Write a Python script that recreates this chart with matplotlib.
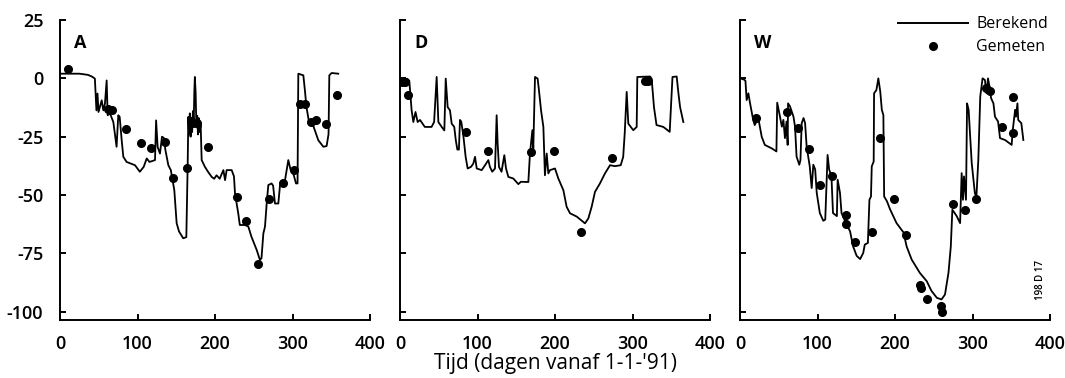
import matplotlib
matplotlib.use("Agg")
import matplotlib.pyplot as plt
from matplotlib.lines import Line2D
from matplotlib.ticker import FuncFormatter

plt.rcParams['font.family'] = ['Open Sans', 'DejaVu Sans']

# ---------------- data (day, value in cm) ----------------
panel_labels = ["A", "D", "W"]

A_berekend = [
    (0, 2), (10, 2), (25, 2), (36, 1.5), (41, 0.8), (45, -0.1), (47, -13.7), (48.4, -6.5),
    (49.7, -14.4), (53.8, -9.4), (55.9, -13.7), (58, -10.8), (60.2, -0.9), (61.5, -15.8),
    (64.5, -15), (68.8, -18.7), (73, -29.3), (75.2, -15.8), (77, -16.5), (79.6, -26.5),
    (81.7, -33.6), (86, -35.8), (96.8, -37.2), (103, -40), (108, -37.9), (111.9, -34.3),
    (115.5, -35.8), (122.6, -35), (124, -18), (126, -29.4), (129, -32.2), (131.6, -25),
    (134, -25.5), (136, -30.7), (139.8, -37.2), (143, -39.3), (147.5, -47.9), (150.5, -62),
    (153.6, -65.6), (159, -68.5), (163, -68), (164.7, -37.9), (165.6, -16.5), (166.5, -24),
    (167.5, -15), (168.5, -25), (169.5, -17), (170.5, -23), (171.5, -14), (172.5, -20),
    (173.3, -6), (174, 0.6), (175, -6), (176, -21), (177, -16), (178, -24), (179, -17),
    (180, -23), (181.5, -19.9), (182.8, -35), (187, -37.9), (191, -40), (195.7, -42.2),
    (199, -43), (202, -41.5), (206, -43), (210.8, -39.3), (213, -43.6), (215, -39.3),
    (221.5, -39.3), (224.5, -42), (225.8, -49.3), (230, -57.8), (232, -62.8), (238.7, -62.8),
    (243, -63.5), (247, -67.8), (253.8, -73.5), (258, -77.8), (260, -77), (262.4, -66.4),
    (264.5, -63.5), (266.7, -53.6), (268.8, -45.7), (273, -45), (275, -46), (277.4, -53.6),
    (281.7, -53.6), (283.9, -45.7), (290, -44.3), (294.6, -35), (297.6, -39.3), (301, -40.7),
    (304.5, -45), (306.5, -45), (307.5, 2), (314, 1.3), (316, -5.1), (318, -12.3),
    (321.7, -19.4), (327, -20.5), (333.3, -26.5), (339.8, -29.3), (344, -29), (346.5, -23.9),
    (347.5, 1.3), (350.5, 2.3), (359, 2),
]
A_gemeten = [
    (10.8, 3.8), (62, -13), (67, -13.7), (84.7, -21.9), (104.5, -27.6), (117, -30),
    (135.5, -27.2), (146, -42.5), (164, -38.2), (171, -19), (177, -19), (191.4, -29.6),
    (228, -51), (240, -61), (255, -79.6), (270, -51.5), (288, -45), (302, -39.3),
    (310, -10.8), (316, -10.8), (324, -18.5), (330.3, -17.9), (343, -19.7), (357.8, -7),
]

D_berekend = [
    (0, -0.3), (2, -0.1), (9.5, -0.2), (12, -1), (15, -13.7), (17.2, -18.7), (20, -14.4),
    (22.8, -18.7), (25.8, -17.8), (32, -20.8), (40.7, -20.8), (44, -18.7), (47.3, 0.6),
    (49.5, -18.7), (53.8, -20.8), (57.2, -22.3), (59, -0.1), (61.5, -12.3), (64.5, -13.7),
    (66.7, -19.4), (70, -20.8), (72, -26.5), (74, -30.5), (76, -30.5), (77.4, -17.8),
    (79, -18.5), (81.7, -24.4), (84.7, -33.6), (87.3, -38.6), (91.6, -37.9), (94.6, -36.5),
    (96.8, -33.6), (99, -38.6), (105.4, -39.3), (109.7, -37.2), (114, -35), (116, -37.9),
    (119, -40), (122.6, -38.6), (124.7, -15.8), (126, -28), (127.7, -37.9), (131, -40),
    (134.6, -32.9), (136.8, -38.6), (139.8, -42.2), (146.2, -42.9), (152.7, -45.3),
    (156, -44.3), (165.6, -44.4), (167.7, -32.2), (170.8, -22.2), (172, -30), (174.2, 0.6),
    (177.6, -0.1), (179.3, -5.1), (182, -13.7), (185, -20.8), (187, -41.5), (189.3, -32.2),
    (191.4, -40.7), (193.5, -39.3), (200, -38.6), (204.3, -42.9), (210.8, -47.9),
    (215, -55), (219.4, -57.8), (228, -59.2), (238.7, -62.1), (243, -60), (247.3, -55),
    (251.6, -48.6), (258, -45), (264.5, -40.7), (271, -37.2), (277.4, -37.6), (284.8, -37.2),
    (288, -33.6), (290, -23.3), (292.5, -5.8), (294.6, -19.4), (301, -22.2), (305.4, -20.8),
    (306.2, 0.6), (322.6, 0.8), (324.7, -0.1), (327.7, -12.3), (331, -20), (339.8, -20.8),
    (348, -22.9), (351.6, 0.6), (357, 0.8), (359.3, -6.5), (361.4, -12.3), (365.6, -18.7),
]
D_gemeten = [
    (2, -1.4), (7, -1.4), (10, -7), (85, -22.9), (113, -31), (168.6, -31.5), (198.5, -31),
    (233.5, -66), (273, -34.3), (316, -1.3), (320, -1),
]

W_berekend = [
    (0, 0), (5, -0.5), (7, -1), (8.6, -9.3), (10.8, -6.4), (13, -10.7), (17, -17.8),
    (19, -20), (23.6, -17), (28, -25), (32, -28.5), (41, -30), (47, -31.3), (48, -10.4),
    (51.6, -16.4), (54, -20.7), (56, -17.8), (58, -25.6), (60, -18.5), (61.5, -28.5),
    (62, -10.7), (64.5, -12), (69, -16.4), (71, -20.7), (73, -33.5), (76.5, -37), (78, -35),
    (79.6, -19.2), (82, -17), (84, -19.2), (86, -29.2), (90, -37.7), (92.5, -47),
    (94.6, -37), (97, -39), (99, -49), (103, -57.7), (107.5, -61), (110, -60.5),
    (113, -32.8), (115, -39), (118, -42), (120, -57.7), (125, -59), (126, -43.4),
    (129, -49), (131, -57.7), (137.6, -62.7), (142, -65.5), (146, -72), (150.5, -76),
    (155, -77.4), (159, -74.8), (161, -71.2), (165, -70.5), (167, -52), (169, -50.6),
    (170, -37.7), (172.5, -35.6), (173, -6.4), (176, -5), (178.5, 0), (181, -5.7),
    (183, -13.5), (185, -15.7), (186, -50.6), (189.7, -52.7), (193.5, -56), (202, -62),
    (211, -66), (215, -72), (221.5, -77.6), (232, -83.3), (241, -86.9), (247, -91),
    (254, -94), (260, -94.7), (264.5, -92.6), (269, -83.3), (272, -72), (274, -56.3),
    (276.6, -57.5), (279.6, -59), (284, -62), (286, -40.6), (287.7, -52), (289, -42),
    (291.6, -52), (293, -10.7), (295, -13.5), (299, -36.3), (303, -49), (305, -51),
    (307.5, -35), (310, -7.8), (313, 0), (316, -0.7), (318, -6.4), (320, 0), (322, -3.6),
    (324, -8.5), (327, -10.7), (329, -16.4), (333, -18.5), (335.5, -25.6), (342, -26.4),
    (350.5, -28.5), (352, -22), (355, -13.5), (356, -16.4), (358, -10.7), (359, -17.8),
    (363, -19.2), (365.6, -26.4),
]
W_gemeten = [
    (20.6, -17.1), (61, -14.2), (75, -21.2), (89, -30.2), (103, -45.6), (118.5, -42),
    (136.5, -58.7), (136.5, -62.2), (149, -70.2), (170.5, -65.9), (181, -25.5),
    (198.5, -51.5), (214, -67.2), (232, -88.3), (233, -90), (241, -94.7), (259, -97.3),
    (260, -100), (274.4, -53.7), (290, -56.3), (304.5, -51.7), (318, -4.3), (322, -5.5),
    (337.6, -20.7), (352.7, -7.8), (351.8, -23.5),
]

x_ticks = [0, 100, 200, 300, 400]
y_ticks = [25, 0, -25, -50, -75, -100]
legend_labels = ["Berekend", "Gemeten"]
x_label = "Tijd (dagen vanaf 1-1-'91)"
figure_code = "198 D 17"

series = [(A_berekend, A_gemeten), (D_berekend, D_gemeten), (W_berekend, W_gemeten)]

# ---------------- figure ----------------
W_PX, H_PX = 1065, 378
fig = plt.figure(figsize=(W_PX / 100, H_PX / 100), dpi=100)

lefts_px = [60, 400, 740]
ax_w, ax_top, ax_bot = 310, 20, 320
axes = []
for lp in lefts_px:
    ax = fig.add_axes([lp / W_PX, 1 - ax_bot / H_PX, ax_w / W_PX, (ax_bot - ax_top) / H_PX])
    axes.append(ax)

fmt = FuncFormatter(lambda v, p: f"{int(v)}".replace("\u2212", "-"))

for i, (ax, (ber, gem), lab) in enumerate(zip(axes, series, panel_labels)):
    bx, by = zip(*ber)
    gx, gy = zip(*gem)
    ax.plot(bx, by, color="black", lw=1.3, zorder=2)
    ax.plot(gx, gy, "o", color="black", ms=5.5, zorder=3)
    ax.set_xlim(0, 400)
    ax.set_ylim(-103.5, 25)
    ax.set_xticks(x_ticks)
    ax.set_yticks(y_ticks)
    ax.spines["top"].set_visible(False)
    ax.spines["right"].set_visible(False)
    for s in ("left", "bottom"):
        ax.spines[s].set_linewidth(1.4)
    ax.tick_params(direction="in", length=4, width=1.4, labelsize=13)
    ax.tick_params(axis="x", pad=11)
    ax.tick_params(axis="y", pad=12)
    ax.yaxis.set_major_formatter(fmt)
    for t in ax.get_xticklabels() + ax.get_yticklabels():
        t.set_fontweight("semibold")
    if i > 0:
        ax.tick_params(axis="y", labelleft=False)
    ax.text(0.045, 0.925, lab, transform=ax.transAxes, fontsize=13, fontweight="bold",
            ha="left", va="center")

axes[1].set_xlabel(x_label, fontsize=15, labelpad=0)

handles = [Line2D([], [], color="black", lw=1.4),
           Line2D([], [], color="black", marker="o", ls="none", ms=5.5)]
axes[2].legend(handles, legend_labels, loc="upper right", bbox_to_anchor=(1.03, 1.05),
               frameon=False, fontsize=11.5, handlelength=4.4, handletextpad=0.5,
               labelspacing=0.45, borderpad=0.2)

axes[2].text(0.968, 0.135, figure_code, transform=axes[2].transAxes, rotation=90,
             fontsize=7, fontweight="semibold", ha="center", va="center")

fig.savefig("out.png", dpi=100)
